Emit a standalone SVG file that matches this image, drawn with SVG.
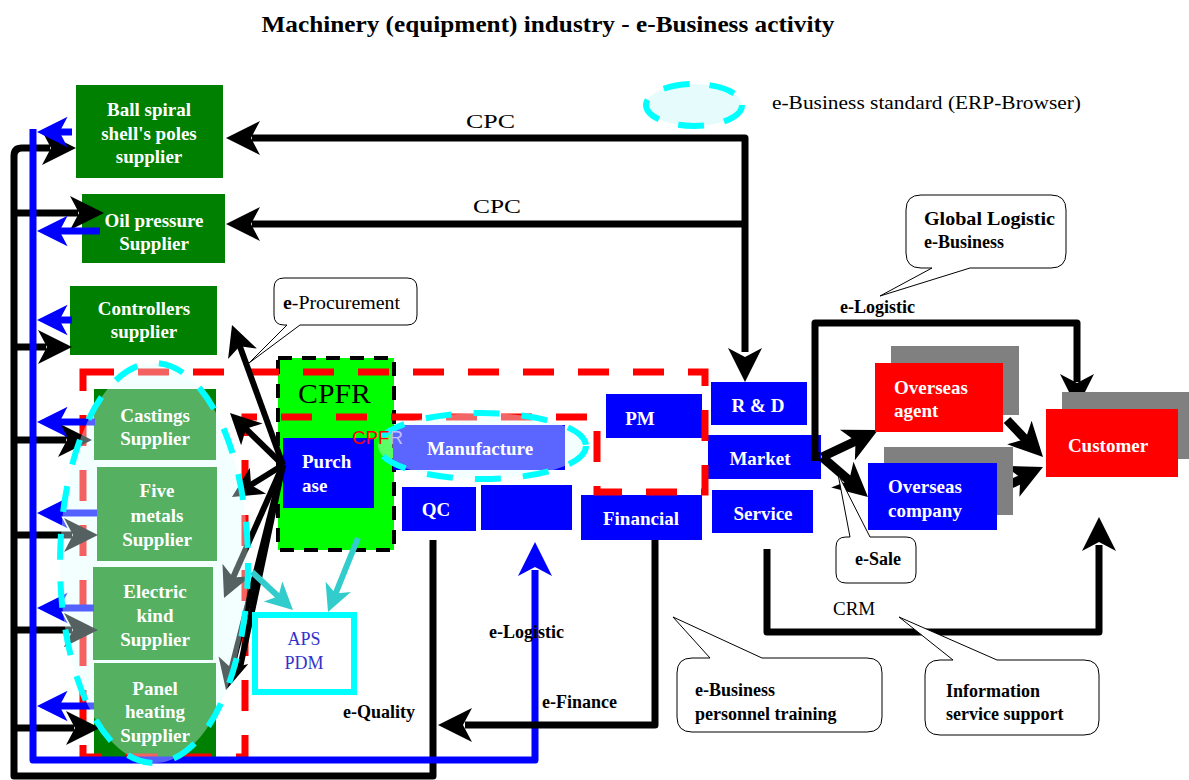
<svg xmlns="http://www.w3.org/2000/svg" width="1189" height="780" viewBox="0 0 1189 780">
<style>
.bw{font-family:"Liberation Serif",serif;font-weight:bold;fill:#fff;font-size:19px}
.lb{font-family:"Liberation Serif",serif;fill:#000;font-size:19px}
.lbb{font-family:"Liberation Serif",serif;fill:#000;font-size:18px;font-weight:bold}
.gr{fill:#008000}
.bl{fill:#0000ff}
.rd{fill:#ff0000}
.sh{fill:#808080}
.k{fill:none;stroke:#000;stroke-width:7;stroke-linejoin:round}
.b{fill:none;stroke:#0000ff;stroke-width:7;stroke-linejoin:round}
.t{fill:none;stroke:#33cccc;stroke-width:6}
.co{fill:#fff;stroke:#000;stroke-width:1}
</style>
<defs>
<path id="ah" d="M0,0 L-34,-17 L-25,0 L-34,17 Z"/>
</defs>
<rect width="1189" height="780" fill="#fff"/>
<text x="548" y="32" text-anchor="middle" font-family="Liberation Serif, serif" font-weight="bold" font-size="23" textLength="573" lengthAdjust="spacingAndGlyphs">Machinery (equipment) industry - e-Business activity</text>

<g id="legend">
<ellipse cx="694" cy="105" rx="48" ry="21" fill="#e6fcfc" stroke="#00ffff" stroke-width="6" stroke-dasharray="26 20"/>
<text x="772" y="109" class="lb" font-size="18" textLength="309" lengthAdjust="spacingAndGlyphs">e-Business standard (ERP-Browser)</text>
</g>

<g id="ball-supplier"><rect x="76" y="85" width="147" height="93" class="gr"/></g>
<g id="oil-supplier"><rect x="82" y="194" width="143" height="69" class="gr"/></g>
<g id="controllers-supplier"><rect x="70" y="286" width="147" height="69" class="gr"/></g>
<g id="castings-box"><rect x="94" y="389" width="122" height="71" class="gr"/></g>
<g id="five-box"><rect x="97" y="467" width="120" height="94" class="gr"/></g>
<g id="electric-box"><rect x="93" y="567" width="120" height="93" class="gr"/></g>
<g id="panel-box"><rect x="94" y="663" width="122" height="94" class="gr"/></g>

<g id="cpfr"><rect x="278" y="358" width="116" height="192" fill="#00ff00" stroke="#000" stroke-width="4" stroke-dasharray="14 10"/>
<text x="298" y="403" font-family="Liberation Serif, serif" font-size="28" textLength="73" lengthAdjust="spacingAndGlyphs">CPFR</text></g>
<g id="purchase"><rect x="283" y="438" width="91" height="70" class="bl"/></g>
<g id="qc"><rect x="402" y="487" width="74" height="44" class="bl"/></g>
<g id="blank"><rect x="481" y="485" width="91" height="45" class="bl"/></g>
<g id="financial"><rect x="581" y="495" width="121" height="45" class="bl"/></g>
<g id="pm"><rect x="606" y="394" width="96" height="44" class="bl"/></g>
<g id="rd"><rect x="711" y="382" width="96" height="43" class="bl"/></g>
<g id="market"><rect x="708" y="435" width="113" height="44" class="bl"/></g>
<g id="service"><rect x="712" y="490" width="101" height="43" class="bl"/></g>
<g id="manufacture-box"><rect x="393" y="425" width="172" height="45" class="bl"/></g>

<g id="red-boundary"><path d="M83,372 H705 V492 H597 V417 H245 V757 H83 Z" fill="none" stroke="#ff0000" stroke-width="7" stroke-dasharray="31 24"/></g>

<g id="connectors">
<path class="k" d="M252,138 H745 V352"/>
<use href="#ah" transform="translate(226,138) rotate(180)"/>
<use href="#ah" transform="translate(745,382) rotate(90)"/>
<path class="k" d="M252,224 H745"/>
<use href="#ah" transform="translate(226,224) rotate(180)"/>
<path class="k" d="M433,540 V776 H14 V156 Q14,148 22,148 H50"/>
<use href="#ah" transform="translate(76,148)"/>
<path class="k" d="M14,213 H78"/><use href="#ah" transform="translate(104,213)"/>
<path class="k" d="M14,347 H46"/><use href="#ah" transform="translate(72,347)"/>
<path class="k" d="M14,440 H66"/><use href="#ah" transform="translate(92,440)"/>
<path class="k" d="M14,535 H72"/><use href="#ah" transform="translate(98,535)"/>
<path class="k" d="M14,630 H72"/><use href="#ah" transform="translate(98,630)"/>
<path class="k" d="M14,728 H74"/><use href="#ah" transform="translate(100,728)"/>
<path class="b" d="M535,570 V760 H33 V129"/>
<use href="#ah" fill="#0000ff" transform="translate(535,542) rotate(-90)"/>
<g fill="#0000ff">
<path class="b" d="M72,132 H58"/><use href="#ah" transform="translate(37,132) rotate(180) scale(0.9)"/>
<path class="b" d="M100,231 H58"/><use href="#ah" transform="translate(37,231) rotate(180) scale(0.9)"/>
<path class="b" d="M72,320 H58"/><use href="#ah" transform="translate(37,320) rotate(180) scale(0.9)"/>
<path class="b" d="M95,422 H58"/><use href="#ah" transform="translate(37,422) rotate(180) scale(0.9)"/>
<path class="b" d="M97,513 H58"/><use href="#ah" transform="translate(37,513) rotate(180) scale(0.9)"/>
<path class="b" d="M94,608 H58"/><use href="#ah" transform="translate(37,608) rotate(180) scale(0.9)"/>
<path class="b" d="M94,706 H58"/><use href="#ah" transform="translate(37,706) rotate(180) scale(0.9)"/>
</g>
<path class="k" d="M655,540 V725 H465"/>
<use href="#ah" transform="translate(438,725) rotate(180)"/>
<path class="k" d="M767,549 V632 H1099 V545"/>
<use href="#ah" transform="translate(1099,517) rotate(-90)"/>
<path class="k" d="M815,457 V323 H1077 V382"/>
<use href="#ah" transform="translate(1077,408) rotate(90)"/>
<rect x="811" y="452" width="9" height="9" fill="#000"/>
<g stroke="#000" stroke-width="6" fill="none">
<path d="M283,465 L239,344"/><path d="M283,465 L244,427"/><path d="M283,465 L249,486"/><path d="M283,465 L232,580"/><path d="M283,465 L231,671"/><path d="M283,465 L240,668"/>
</g>
<use href="#ah" transform="translate(232,325) rotate(-110) scale(0.9)"/>
<use href="#ah" transform="translate(230,413) rotate(-135.5) scale(0.9)"/>
<use href="#ah" transform="translate(232,497) rotate(148) scale(0.9)"/>
<use href="#ah" transform="translate(224,598) rotate(114) scale(0.9)"/>
<use href="#ah" transform="translate(226,690) rotate(104) scale(0.9)"/>
<path class="t" d="M358,538 L335,595"/>
<use href="#ah" fill="#33cccc" transform="translate(328,612) rotate(112) scale(0.8)"/>
<path class="t" d="M252,572 L280,598"/>
<use href="#ah" fill="#33cccc" transform="translate(293,610) rotate(43) scale(0.8)"/>
<g stroke="#000" stroke-width="9" fill="none">
<path d="M822,457 L858,440"/><path d="M822,457 L851,482"/>
<path d="M1007,420 L1027,441"/><path d="M1004,487 L1022,479"/>
</g>
<use href="#ah" transform="translate(878,430) rotate(-26)"/>
<use href="#ah" transform="translate(868,497) rotate(41)"/>
<use href="#ah" transform="translate(1043,457) rotate(46)"/>
<use href="#ah" transform="translate(1043,467) rotate(-25)"/>
</g>

<g id="supplier-cluster">
<ellipse cx="154" cy="563" rx="94" ry="200" fill="#e0ffff" fill-opacity="0.38" stroke="#00ffff" stroke-width="6" stroke-dasharray="26 22"/>
</g>

<g id="ball-text"><text class="bw" text-anchor="middle"><tspan x="149" y="116">Ball spiral</tspan><tspan x="149" y="140">shell's poles</tspan><tspan x="149" y="163">supplier</tspan></text></g>
<g id="oil-text"><text class="bw" text-anchor="middle"><tspan x="154" y="227">Oil pressure</tspan><tspan x="154" y="250">Supplier</tspan></text></g>
<g id="controllers-text"><text class="bw" text-anchor="middle"><tspan x="144" y="315">Controllers</tspan><tspan x="144" y="338">supplier</tspan></text></g>
<g id="castings-supplier"><text class="bw" text-anchor="middle"><tspan x="155" y="422">Castings</tspan><tspan x="155" y="445">Supplier</tspan></text></g>
<g id="five-metals-supplier"><text class="bw" text-anchor="middle"><tspan x="157" y="497">Five</tspan><tspan x="157" y="522">metals</tspan><tspan x="157" y="546">Supplier</tspan></text></g>
<g id="electric-supplier"><text class="bw" text-anchor="middle"><tspan x="155" y="598">Electric</tspan><tspan x="155" y="622">kind</tspan><tspan x="155" y="646">Supplier</tspan></text></g>
<g id="panel-supplier"><text class="bw" text-anchor="middle"><tspan x="155" y="695">Panel</tspan><tspan x="155" y="718">heating</tspan><tspan x="155" y="742">Supplier</tspan></text></g>

<g id="purchase-text"><text class="bw"><tspan x="302" y="468">Purch</tspan><tspan x="302" y="492">ase</tspan></text></g>
<g id="manufacture">
<ellipse cx="482" cy="446" rx="104" ry="33" fill="#e0ffff" fill-opacity="0.4" stroke="#00ffff" stroke-width="6" stroke-dasharray="26 22"/>
<text x="352" y="444" font-family="Liberation Sans, sans-serif" font-size="18" fill="#ff0000" textLength="51" lengthAdjust="spacingAndGlyphs">CPF<tspan fill="#c0c0ff">R</tspan></text>
<text x="480" y="455" class="bw" text-anchor="middle">Manufacture</text>
</g>
<text x="436" y="516" class="bw" text-anchor="middle">QC</text>
<text x="641" y="525" class="bw" text-anchor="middle">Financial</text>
<text x="640" y="425" class="bw" text-anchor="middle">PM</text>
<text x="758" y="412" class="bw" text-anchor="middle">R &amp; D</text>
<text x="760" y="465" class="bw" text-anchor="middle">Market</text>
<text x="763" y="520" class="bw" text-anchor="middle">Service</text>

<g id="aps-pdm"><rect x="255" y="615" width="99" height="77" fill="#fff" stroke="#00ffff" stroke-width="6"/>
<text font-family="Liberation Serif, serif" font-size="18" fill="#3333cc" text-anchor="middle"><tspan x="304" y="645">APS</tspan><tspan x="304" y="669">PDM</tspan></text></g>

<g id="overseas-agent"><rect x="891" y="346" width="128" height="69" class="sh"/><rect x="875" y="363" width="128" height="69" class="rd"/>
<text class="bw"><tspan x="894" y="394">Overseas</tspan><tspan x="894" y="417">agent</tspan></text></g>
<g id="overseas-company"><rect x="884" y="447" width="129" height="68" class="sh"/><rect x="868" y="463" width="129" height="67" class="bl"/>
<text class="bw"><tspan x="888" y="493">Overseas</tspan><tspan x="888" y="517">company</tspan></text></g>
<g id="customer"><rect x="1062" y="392" width="127" height="67" class="sh"/><rect x="1046" y="409" width="132" height="68" class="rd"/>
<text x="1108" y="452" class="bw" text-anchor="middle">Customer</text></g>

<g id="callout-procurement"><path class="co" d="M284,278 H407 Q417,278 417,288 V315 Q417,325 407,325 H300 L249,363 L287,325 H284 Q274,325 274,315 V288 Q274,278 284,278 Z"/>
<text x="283" y="309" class="lb" font-size="18" textLength="117" lengthAdjust="spacingAndGlyphs"><tspan font-weight="bold">e</tspan>-Procurement</text></g>
<g id="callout-global"><path class="co" d="M921,195 H1051 Q1066,195 1066,210 V253 Q1066,268 1051,268 H970 L880,296 L932,268 H921 Q906,268 906,253 V210 Q906,195 921,195 Z"/>
<text class="lbb"><tspan x="924" y="225" textLength="131" lengthAdjust="spacingAndGlyphs">Global Logistic</tspan><tspan x="924" y="248">e-Business</tspan></text></g>
<g id="callout-esale"><path class="co" d="M846,537 H850 L838,474 L870,537 H906 Q916,537 916,547 V573 Q916,583 906,583 H846 Q836,583 836,573 V547 Q836,537 846,537 Z"/>
<text x="855" y="565" class="lbb">e-Sale</text></g>
<g id="callout-training"><path class="co" d="M692,658 H710 L673,617 L762,658 H867 Q882,658 882,673 V717 Q882,732 867,732 H692 Q677,732 677,717 V673 Q677,658 692,658 Z"/>
<text class="lbb"><tspan x="695" y="696">e-Business</tspan><tspan x="695" y="720">personnel training</tspan></text></g>
<g id="callout-info"><path class="co" d="M940,660 H953 L899,617 L997,660 H1084 Q1099,660 1099,675 V720 Q1099,735 1084,735 H940 Q925,735 925,720 V675 Q925,660 940,660 Z"/>
<text class="lbb"><tspan x="946" y="697">Information</tspan><tspan x="946" y="720">service support</tspan></text></g>

<g id="labels">
<text x="466" y="128" class="lb" font-size="22" textLength="49" lengthAdjust="spacingAndGlyphs">CPC</text>
<text x="473" y="213" class="lb" font-size="22" textLength="48" lengthAdjust="spacingAndGlyphs">CPC</text>
<text x="840" y="313" class="lbb">e-Logistic</text>
<text x="489" y="638" class="lbb">e-Logistic</text>
<text x="542" y="708" class="lbb">e-Finance</text>
<text x="343" y="718" class="lbb">e-Quality</text>
<text x="833" y="615" class="lb">CRM</text>
</g>
</svg>
